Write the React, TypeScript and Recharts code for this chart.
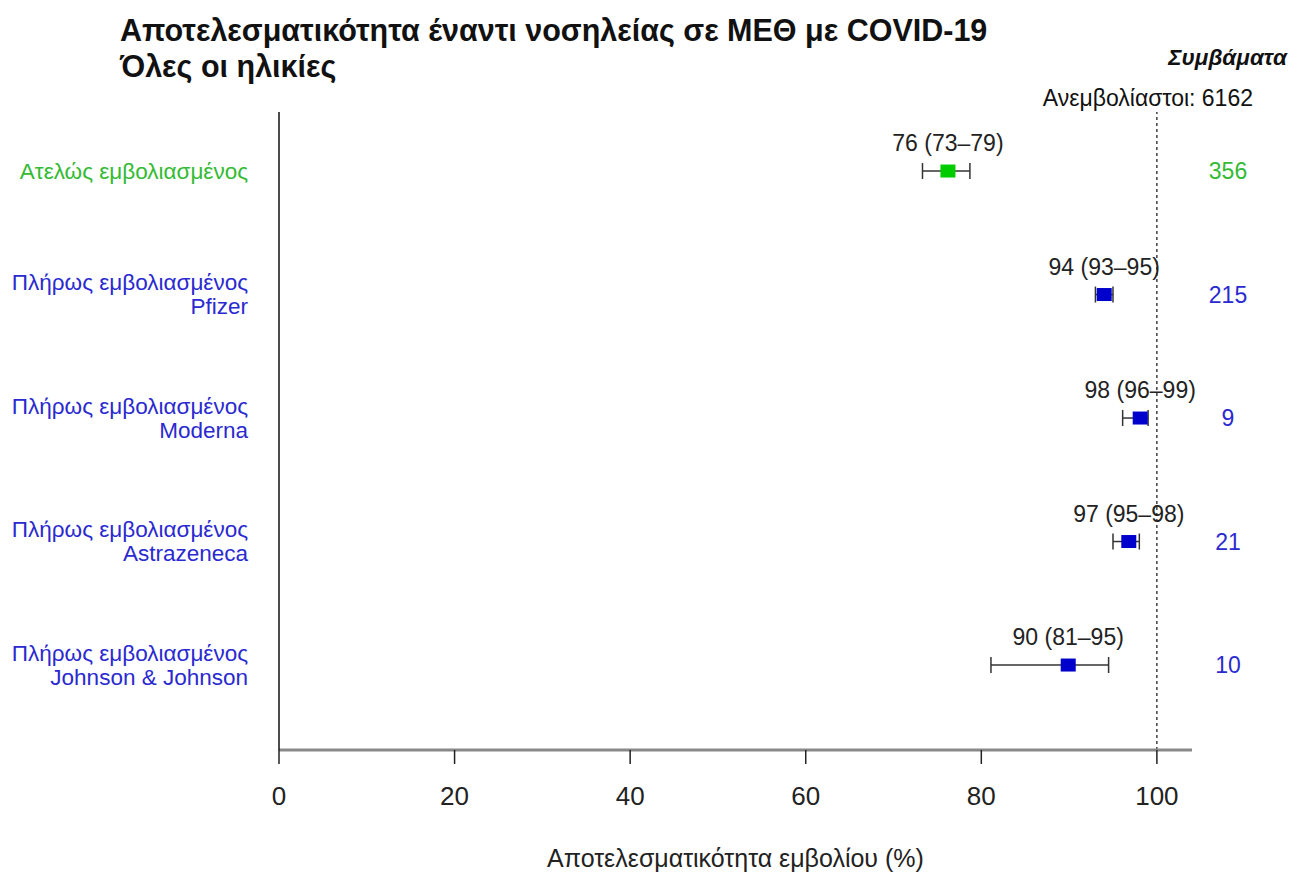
import {
  ErrorBar,
  ReferenceLine,
  Scatter,
  ScatterChart,
  XAxis,
  YAxis
} from "recharts";

const FONT = '"Liberation Sans", Arial, Helvetica, sans-serif';
const GREEN = "#00cc00";
const BLUE = "#0000cc";
const GREEN_TEXT = "#33bb33";
const BLUE_TEXT = "#2a2ad0";

const categories = [
  ["Ατελώς εμβολιασμένος"],
  ["Πλήρως εμβολιασμένος", "Pfizer"],
  ["Πλήρως εμβολιασμένος", "Moderna"],
  ["Πλήρως εμβολιασμένος", "Astrazeneca"],
  ["Πλήρως εμβολιασμένος", "Johnson & Johnson"]
];
const fullyVaccinated = [false, true, true, true, true];
const estimates = [76.2, 94.0, 98.1, 96.8, 89.9];
const lowerCI = [73.3, 93.0, 96.1, 95.0, 81.1];
const upperCI = [78.7, 95.0, 99.0, 98.0, 94.5];
const estimateLabels = ["76 (73–79)", "94 (93–95)", "98 (96–99)", "97 (95–98)", "90 (81–95)"];
const events = [356, 215, 9, 21, 10];
const unvaccinatedEvents = 6162;
const xTicks = [0, 20, 40, 60, 80, 100];
const rowTicks = [1, 2, 3, 4, 5];

const data = estimates.map((value, i) => ({
  row: i + 1,
  value,
  err: [value - lowerCI[i], upperCI[i] - value],
  label: estimateLabels[i],
  full: fullyVaccinated[i]
}));

const Y_DOMAIN: [number, number] = [0.522, 5.688];

function SquareShape(props: any) {
  const { cx, cy, payload } = props;
  if (cx == null || cy == null) return null;
  return (
    <g>
      <rect x={cx - 7.5} y={cy - 6.5} width={15} height={13} fill={payload.full ? BLUE : GREEN} />
      <text x={cx} y={cy - 28} textAnchor="middle" dominantBaseline="central" fontSize={23} fill="#222" style={{ fontFamily: FONT }}>
        {payload.label}
      </text>
    </g>
  );
}

function LeftTick(props: any) {
  const { x, y, payload } = props;
  const idx = Math.round(payload.value) - 1;
  const lines = categories[idx] ?? [];
  const color = fullyVaccinated[idx] ? BLUE_TEXT : GREEN_TEXT;
  const start = -((lines.length - 1) * 24) / 2;
  return (
    <text x={x - 23} y={y} textAnchor="end" fontSize={22.5} fill={color} style={{ fontFamily: FONT }}>
      {lines.map((line, i) => (
        <tspan key={i} x={x - 23} y={y + start + i * 24} dominantBaseline="central">
          {line}
        </tspan>
      ))}
    </text>
  );
}

function RightTick(props: any) {
  const { x, y, payload } = props;
  const idx = Math.round(payload.value) - 1;
  return (
    <text x={x + 28} y={y} textAnchor="middle" dominantBaseline="central" fontSize={23} fill={fullyVaccinated[idx] ? BLUE_TEXT : GREEN_TEXT} style={{ fontFamily: FONT }}>
      {events[idx]}
    </text>
  );
}

export default function App() {
  return (
    <div style={{ position: "absolute", left: 0, top: 0, width: 1294, height: 872, background: "#fff", fontFamily: FONT }}>
      <div style={{ position: "absolute", left: 120, top: 12, fontSize: 30.5, fontWeight: "bold", lineHeight: "36px", color: "#111" }}>
        Αποτελεσματικότητα έναντι νοσηλείας σε ΜΕΘ με COVID-19
        <br />
        Όλες οι ηλικίες
      </div>
      <div style={{ position: "absolute", right: 7, top: 45, fontSize: 22.5, fontWeight: "bold", fontStyle: "italic", lineHeight: "26px", color: "#111" }}>
        Συμβάματα
      </div>
      <div style={{ position: "absolute", right: 41, top: 85, fontSize: 23, lineHeight: "26px", color: "#111" }}>
        Ανεμβολίαστοι: {unvaccinatedEvents}
      </div>
      <ScatterChart width={1294} height={872} margin={{ top: 112, right: 0, bottom: 0, left: 0 }}>
        <XAxis
          type="number"
          dataKey="value"
          domain={[0, 104]}
          ticks={xTicks}
          height={122}
          axisLine={{ stroke: "#888", strokeWidth: 3 }}
          tickLine={{ stroke: "#222", strokeWidth: 1.5 }}
          tickSize={14}
          tickMargin={23}
          tick={{ fontSize: 26, fill: "#222", fontFamily: FONT }}
          label={{ value: "Αποτελεσματικότητα εμβολίου (%)", position: "insideBottom", offset: 5, fontSize: 25, fill: "#222", fontFamily: FONT }}
        />
        <YAxis
          yAxisId="left"
          type="number"
          dataKey="row"
          domain={Y_DOMAIN}
          reversed
          ticks={rowTicks}
          width={279}
          axisLine={{ stroke: "#111", strokeWidth: 1.5 }}
          tickLine={false}
          tick={<LeftTick />}
        />
        <YAxis
          yAxisId="right"
          orientation="right"
          type="number"
          domain={Y_DOMAIN}
          reversed
          allowDataOverflow
          ticks={rowTicks}
          width={102}
          axisLine={false}
          tickLine={false}
          tick={<RightTick />}
        />
        <ReferenceLine yAxisId="left" x={100} stroke="#111" strokeDasharray="3 3" strokeWidth={1.2} />
        <Scatter yAxisId="left" data={data} shape={<SquareShape />} isAnimationActive={false}>
          <ErrorBar dataKey="err" direction="x" width={8} stroke="#333" strokeWidth={1.5} />
        </Scatter>
      </ScatterChart>
    </div>
  );
}
